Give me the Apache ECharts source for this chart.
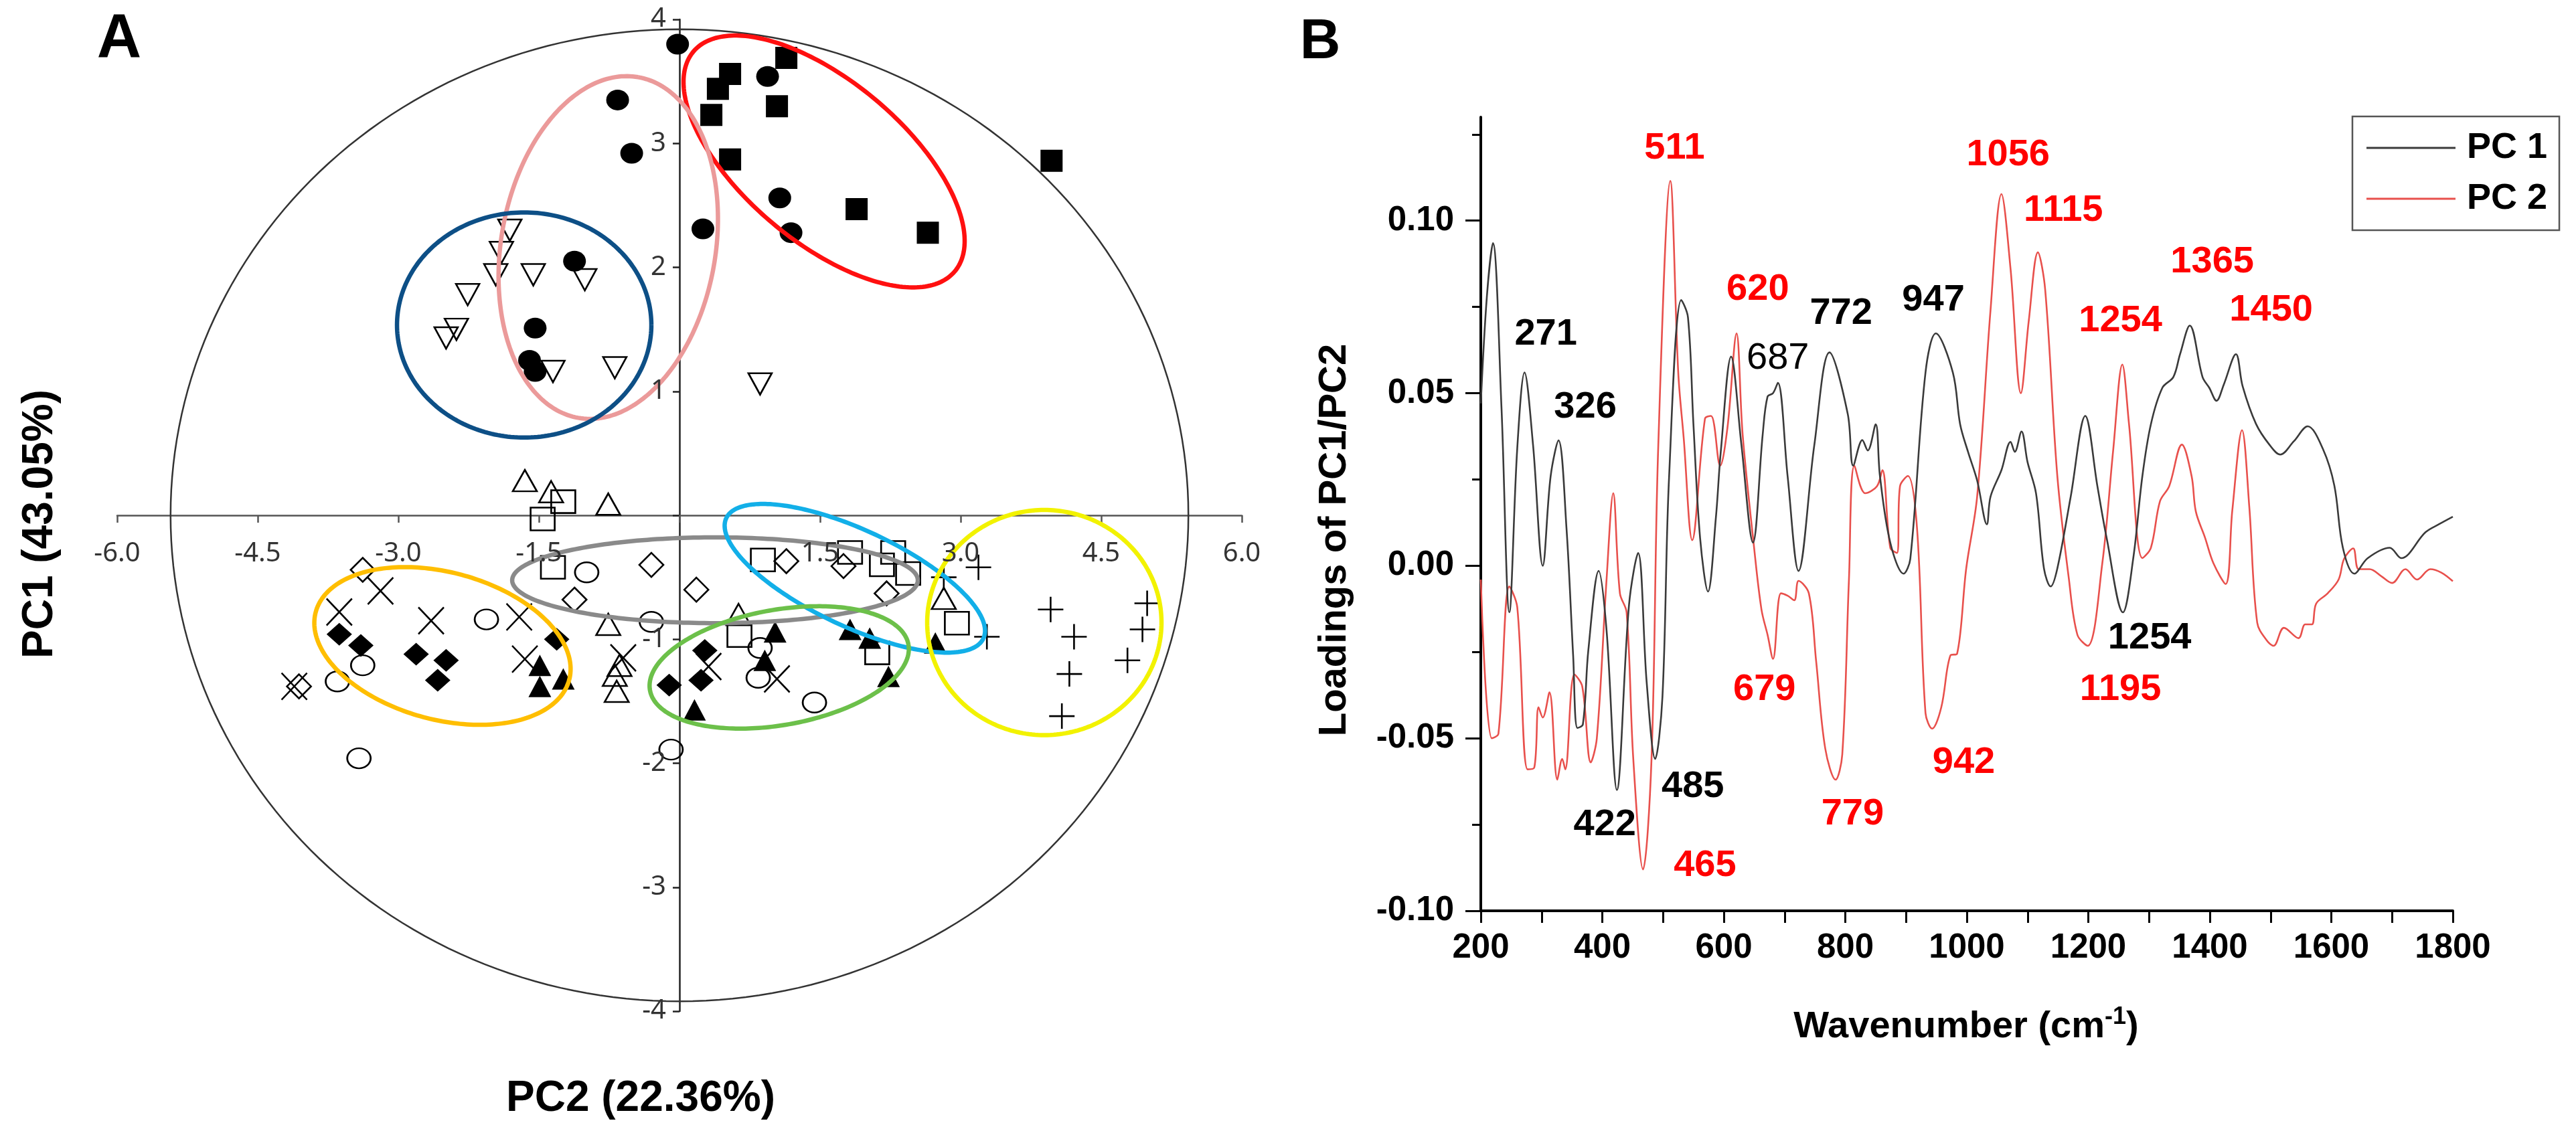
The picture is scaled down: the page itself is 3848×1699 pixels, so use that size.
<!DOCTYPE html>
<html><head><meta charset="utf-8">
<script src="https://cdn.jsdelivr.net/npm/echarts@6.0.0/dist/echarts.min.js"></script>
<style>html,body{margin:0;padding:0;background:#fff}#c{width:3848px;height:1699px}</style>
</head><body><div id="c"></div>
<script>
// ---------- Panel A: PCA scores (PC2 on x, PC1 on y) ----------
const filledCircles = [[-0.02,3.80],[0.94,3.54],[1.07,2.56],[1.19,2.28],[0.25,2.31],[-0.66,3.35],[-0.51,2.92],[-1.12,2.05],[-1.54,1.51],[-1.60,1.25],[-1.54,1.16]];
const filledSquares = [[1.14,3.69],[0.54,3.56],[0.41,3.44],[0.34,3.23],[1.04,3.30],[0.54,2.87],[1.89,2.47],[2.65,2.28],[3.97,2.86]];
const downTriangles = [[-1.81,2.30],[-1.90,2.12],[-1.96,1.94],[-1.56,1.94],[-1.01,1.90],[-2.26,1.78],[-2.38,1.50],[-2.49,1.43],[-1.35,1.16],[-0.69,1.19],[0.86,1.06]];
const upTriangles = [[-1.65,0.28],[-1.37,0.19],[-0.76,0.09],[-0.76,-0.88],[-0.64,-1.21],[-0.69,-1.29],[-0.67,-1.42],[0.63,-0.80],[2.82,-0.67]];
const openSquares = [[-1.46,-0.03],[-1.24,0.11],[-1.35,-0.42],[0.89,-0.36],[1.82,-0.30],[2.28,-0.30],[2.16,-0.40],[2.44,-0.47],[2.96,-0.87],[0.64,-0.97],[2.11,-1.11]];
const openDiamonds = [[-3.38,-0.44],[-1.12,-0.68],[-0.30,-0.40],[0.18,-0.60],[1.14,-0.37],[1.75,-0.41],[2.21,-0.63],[-4.06,-1.38]];
const openCircles = [[-0.99,-0.46],[-2.06,-0.84],[-3.38,-1.21],[-3.65,-1.34],[-0.30,-0.86],[-3.42,-1.96],[0.86,-1.07],[0.84,-1.31],[1.44,-1.51],[-0.09,-1.89]];
const crosses = [[-3.63,-0.78],[-3.19,-0.61],[-2.65,-0.85],[-1.71,-0.82],[-1.65,-1.16],[-0.60,-1.15],[-4.11,-1.38],[0.31,-1.22],[1.04,-1.32]];
const filledDiamonds = [[-3.63,-0.96],[-3.40,-1.05],[-2.81,-1.12],[-2.49,-1.17],[-2.58,-1.33],[-1.31,-1.00],[0.27,-1.09],[0.23,-1.33],[-0.11,-1.37]];
const filledTriangles = [[-1.49,-1.21],[-1.49,-1.38],[-1.24,-1.32],[1.02,-0.94],[0.91,-1.17],[2.03,-0.99],[2.23,-1.30],[0.16,-1.57],[2.73,-1.03],[1.82,-0.92]];
const pluses = [[3.19,-0.42],[2.82,-0.50],[3.96,-0.76],[4.99,-0.71],[4.21,-0.98],[4.94,-0.92],[3.28,-0.98],[4.78,-1.17],[4.16,-1.28],[4.08,-1.62]];

// ellipses: centre (x,y) and two conjugate semi-axis vectors, data units
const ellipseShapes = [
  [0, 0, 5.43, 0, 0, 3.92],
  [1.543, 2.854, 1.395, -0.886, -0.551, -0.497],
  [-0.76, 2.16, 0.320, 1.374, 1.126, -0.150],
  [-1.657, 1.535, 1.357, 0, 0, 0.908],
  [0.379, -0.524, 2.164, 0, 0, 0.346],
  [1.871, -0.508, 1.372, -0.485, -0.2175, -0.3526],
  [3.893, -0.865, 1.25, 0, 0, 0.908],
  [1.064, -1.227, 1.379, 0.184, 0.107, -0.458],
  [-2.529, -1.054, 1.352, -0.274, -0.2035, -0.574]
];
const ellipseColors = ['#333333','#ff1010','#eb9a9a','#0d4f86','#8a8a8a','#12afe8','#f2f200','#6cc04a','#ffbe00'];
const ellipseWidths = [2.5, 6.5, 6.5, 6.5, 6.5, 6.5, 6.5, 6.5, 6.5];

const xTicksA = [-6, -4.5, -3, -1.5, 1.5, 3, 4.5, 6];
const yTicksA = [4, 3, 2, 1, -1, -2, -3, -4];

// ---------- Panel B: loadings ----------
const pc1 = [[200,0.047],[210,0.078],[220,0.0935],[234,0.046],[247,-0.0135],[260,0.034],[272,0.056],[286,0.035],[302,0.000],[315,0.026],[328,0.0363],[341,0.011],[352,-0.026],[359,-0.047],[368,-0.046],[377,-0.0245],[394,-0.0015],[407,-0.0187],[424,-0.065],[444,-0.0113],[459,0.0037],[473,-0.0337],[487,-0.056],[499,-0.038],[510,0.026],[530,0.077],[541,0.072],[550,0.041],[561,0.008],[574,-0.0075],[587,0.014],[595,0.033],[612,0.0606],[629,0.035],[648,0.0067],[664,0.038],[672,0.049],[681,0.050],[689,0.053],[705,0.026],[723,-0.0015],[749,0.035],[774,0.0618],[804,0.044],[813,0.029],[828,0.0364],[837,0.0334],[850,0.041],[857,0.026],[874,0.0067],[896,-0.0023],[907,0.002],[932,0.056],[949,0.0673],[977,0.056],[989,0.041],[1002,0.033],[1017,0.0247],[1033,0.012],[1039,0.020],[1057,0.0277],[1072,0.0359],[1079,0.033],[1090,0.0389],[1100,0.030],[1114,0.0209],[1127,-0.0008],[1138,-0.006],[1149,-0.0008],[1171,0.020],[1195,0.0434],[1215,0.023],[1230,0.0082],[1257,-0.0135],[1274,0.0022],[1289,0.026],[1303,0.041],[1322,0.0516],[1340,0.0547],[1351,0.0613],[1367,0.0696],[1388,0.0547],[1399,0.0516],[1411,0.0478],[1423,0.0525],[1443,0.0613],[1454,0.052],[1476,0.0411],[1498,0.0351],[1516,0.0322],[1538,0.036],[1561,0.0404],[1586,0.0339],[1605,0.0232],[1619,0.0052],[1638,-0.0023],[1660,0.0022],[1696,0.0052],[1715,0.0022],[1755,0.0097],[1777,0.012],[1800,0.0142]];
const pc2 = [[200,-0.004],[218,-0.050],[229,-0.0487],[247,-0.006],[260,-0.012],[277,-0.059],[288,-0.0585],[295,-0.041],[302,-0.044],[313,-0.0367],[326,-0.062],[334,-0.056],[339,-0.059],[354,-0.0315],[367,-0.035],[381,-0.057],[391,-0.050],[407,-0.004],[418,0.021],[429,-0.008],[440,-0.0135],[451,-0.056],[467,-0.088],[481,-0.056],[492,0.034],[512,0.1115],[525,0.056],[534,0.037],[548,0.0074],[569,0.0426],[579,0.0434],[594,0.029],[606,0.040],[621,0.0673],[631,0.038],[650,0.005],[662,-0.0127],[672,-0.020],[681,-0.027],[694,-0.008],[705,-0.0087],[716,-0.010],[723,-0.0044],[740,-0.008],[752,-0.0277],[767,-0.053],[784,-0.062],[795,-0.0547],[806,-0.004],[815,0.029],[833,0.021],[852,0.023],[861,0.0277],[874,0.0052],[885,0.0037],[890,0.023],[903,0.026],[918,0.011],[932,-0.0427],[943,-0.0472],[958,-0.041],[973,-0.026],[984,-0.0255],[999,-0.0008],[1017,0.020],[1039,0.074],[1057,0.1077],[1072,0.086],[1089,0.050],[1102,0.071],[1117,0.0908],[1129,0.080],[1149,0.026],[1168,-0.0038],[1182,-0.020],[1199,-0.0232],[1223,0.0007],[1241,0.0336],[1256,0.0583],[1267,0.041],[1289,0.0022],[1303,0.0052],[1318,0.0187],[1333,0.023],[1354,0.0351],[1370,0.026],[1377,0.0157],[1392,0.0082],[1406,0.0007],[1426,-0.0053],[1437,0.016],[1453,0.0393],[1465,0.017],[1478,-0.0165],[1494,-0.0217],[1505,-0.0232],[1522,-0.018],[1546,-0.021],[1557,-0.017],[1568,-0.017],[1575,-0.011],[1594,-0.008],[1612,-0.004],[1621,0.002],[1636,0.005],[1645,-0.001],[1663,-0.001],[1682,-0.003],[1700,-0.005],[1722,-0.001],[1741,-0.004],[1763,-0.001],[1781,-0.002],[1800,-0.0045]];

const peakText = ['511','271','326','485','422','465','620','687','772','947','679','779','942','1056','1115','1254','1254','1195','1365','1450'];
const peakX = [519,307,372,549,404,569,656,689,793,945,667,812,995,1068,1159,1253,1301,1253,1404,1501];
const peakY = [0.121,0.067,0.046,-0.064,-0.075,-0.087,0.080,0.060,0.073,0.077,-0.036,-0.072,-0.057,0.119,0.103,0.071,-0.021,-0.036,0.088,0.074];
const peakPC = [2,1,1,1,1,2,2,1,1,1,2,2,2,2,2,2,1,2,2,2];

const yMajorB = [-0.1, -0.05, 0, 0.05, 0.1];
const yMinorB = [-0.075, -0.025, 0.025, 0.075, 0.125];

// ---------- build ----------
const FONT = 'Liberation Sans, Arial, sans-serif';
const chart = echarts.init(document.getElementById('c'), null, {renderer: 'canvas'});

function scatterA(name, data, symbol, size, filled, rotate) {
  return {
    name, type: 'scatter', xAxisIndex: 0, yAxisIndex: 0, data,
    symbol, symbolSize: size, symbolRotate: rotate || 0,
    itemStyle: filled ? {color: '#000', borderColor: '#000', borderWidth: 0, opacity: 1}
                      : {color: 'rgba(0,0,0,0)', borderColor: '#000', borderWidth: 2.6, opacity: 1},
    z: 3, silent: true
  };
}
const crossPath = 'path://M0,0L10,10M10,0L0,10';
const plusPath = 'path://M5,0L5,10M0,5L10,5';
const tickFontA = {fontSize: 40, fontFamily: 'Noto Sans', color: '#333'};

const series = [
  scatterA('fc', filledCircles, 'circle', [34, 31], true),
  scatterA('fs', filledSquares, 'rect', [33, 33], true),
  scatterA('dt', downTriangles, 'triangle', [35, 32], false, 180),
  scatterA('ut', upTriangles, 'triangle', [36, 32], false),
  scatterA('os', openSquares, 'rect', [36, 34], false),
  scatterA('od', openDiamonds, 'diamond', [36, 36], false),
  scatterA('oc', openCircles, 'circle', [35, 30], false),
  scatterA('cx', crosses, crossPath, [38, 40], false),
  scatterA('fd', filledDiamonds, 'diamond', [38, 34], true),
  scatterA('ft', filledTriangles, 'triangle', [34, 32], true),
  scatterA('pl', pluses, plusPath, [38, 38], false),
  {
    type: 'custom', xAxisIndex: 0, yAxisIndex: 0, data: ellipseShapes,
    dimensions: ['cx','cy','ax','ay','bx','by'], encode: {x: 0, y: 1},
    clip: false, silent: true, z: 4,
    renderItem: function (params, api) {
      const cx = api.value(0), cy = api.value(1), ax = api.value(2), ay = api.value(3), bx = api.value(4), by = api.value(5);
      const pts = [];
      for (let i = 0; i <= 240; i++) {
        const t = i / 240 * Math.PI * 2;
        pts.push(api.coord([cx + ax * Math.cos(t) + bx * Math.sin(t), cy + ay * Math.cos(t) + by * Math.sin(t)]));
      }
      return {type: 'polyline', shape: {points: pts},
        style: {fill: null, stroke: ellipseColors[params.dataIndex], lineWidth: ellipseWidths[params.dataIndex]}};
    }
  },
  // tick labels of panel A, placed at the crossing axes
  {
    type: 'scatter', xAxisIndex: 0, yAxisIndex: 0, symbolSize: 0, silent: true, z: 5,
    itemStyle: {opacity: 1},
    data: xTicksA.map(v => ({name: v.toFixed(1), value: [v, 0]})),
    label: Object.assign({show: true, position: 'bottom', distance: 38, formatter: p => p.name}, tickFontA)
  },
  {
    type: 'scatter', xAxisIndex: 0, yAxisIndex: 0, symbolSize: 0, silent: true, z: 5,
    itemStyle: {opacity: 1},
    data: yTicksA.map(v => ({name: String(v), value: [0, v]})),
    label: Object.assign({show: true, position: 'left', distance: 20, formatter: p => p.name}, tickFontA)
  },
  {
    name: 'PC 1', type: 'line', xAxisIndex: 1, yAxisIndex: 1, data: pc1, symbol: 'none',
    smooth: 0.35, lineStyle: {color: '#3a3a3a', width: 2.6}, itemStyle: {color: '#3a3a3a'}, z: 3
  },
  {
    name: 'PC 2', type: 'line', xAxisIndex: 1, yAxisIndex: 1, data: pc2, symbol: 'none',
    smooth: 0.35, lineStyle: {color: '#e8504c', width: 2.6}, itemStyle: {color: '#e8504c'}, z: 2
  },
  {
    type: 'scatter', xAxisIndex: 1, yAxisIndex: 1, symbolSize: 0, silent: true, z: 5,
    itemStyle: {color: '#000', opacity: 1},
    data: peakText.map((t, i) => ({name: t, value: [peakX[i], peakY[i]],
      label: {color: peakPC[i] === 2 ? '#ff0000' : '#000000', fontWeight: (t === '687') ? 'normal' : 'bold'}})),
    label: {show: true, position: 'inside', formatter: p => p.name, fontSize: 56, fontFamily: FONT, color: '#000'}
  }
];

const option = {
  animation: false,
  backgroundColor: '#fff',
  grid: [
    {left: 175, top: 29, width: 1680, height: 1482},
    {left: 2212, top: 175, width: 1452, height: 1186}
  ],
  xAxis: [
    {gridIndex: 0, type: 'value', min: -6, max: 6, interval: 1.5,
      axisLine: {onZero: true, lineStyle: {color: '#555', width: 2.5}},
      axisTick: {length: 11, lineStyle: {color: '#555', width: 2.5}},
      axisLabel: {show: false},
      splitLine: {show: false}},
    {gridIndex: 1, type: 'value', min: 200, max: 1800, interval: 100, position: 'bottom',
      axisLine: {onZero: false, lineStyle: {color: '#000', width: 4}},
      axisTick: {length: 18, lineStyle: {color: '#000', width: 3}},
      axisLabel: {formatter: v => (v % 200 === 0 ? String(v) : ''), fontSize: 51, fontWeight: 'bold', fontFamily: FONT, color: '#000', margin: 30},
      splitLine: {show: false}}
  ],
  yAxis: [
    {gridIndex: 0, type: 'value', min: -4, max: 4, interval: 1,
      axisLine: {onZero: true, lineStyle: {color: '#222', width: 2.5}},
      axisTick: {length: 10, lineStyle: {color: '#222', width: 2.5}},
      axisLabel: {show: false},
      splitLine: {show: false}},
    {gridIndex: 1, type: 'value', min: -0.1, max: 0.13, position: 'left',
      axisLine: {onZero: false, lineStyle: {color: '#000', width: 4}},
      axisTick: {customValues: yMajorB, length: 23, lineStyle: {color: '#000', width: 3}},
      axisLabel: {customValues: yMajorB, formatter: v => v.toFixed(2), fontSize: 51, fontWeight: 'bold', fontFamily: FONT, color: '#000', margin: 40},
      splitLine: {show: false}},
    {gridIndex: 1, type: 'value', min: -0.1, max: 0.13, position: 'left', offset: 0,
      axisLine: {show: true, onZero: false, lineStyle: {color: 'rgba(0,0,0,0)', width: 1}},
      axisTick: {show: true, customValues: yMinorB, length: 13, lineStyle: {color: '#000', width: 3}},
      axisLabel: {show: false}, splitLine: {show: false}}
  ],
  legend: {
    data: ['PC 1', 'PC 2'], orient: 'vertical', left: 3514, top: 174,
    borderColor: '#555', borderWidth: 2.5, padding: [20, 18, 20, 21],
    icon: 'rect', itemWidth: 133, itemHeight: 3, itemGap: 22,
    textStyle: {fontSize: 54, fontWeight: 'bold', fontFamily: FONT, color: '#000', padding: [0, 0, 0, 12]}
  },
  graphic: [
    {type: 'text', x: 178, y: 60, style: {text: 'A', fontSize: 92, fontWeight: 'bold', fontFamily: FONT, fill: '#000', align: 'center', verticalAlign: 'middle'}},
    {type: 'text', x: 1972, y: 64, style: {text: 'B', fontSize: 84, fontWeight: 'bold', fontFamily: FONT, fill: '#000', align: 'center', verticalAlign: 'middle'}},
    {type: 'text', x: 60, y: 783, rotation: Math.PI / 2, style: {text: 'PC1 (43.05%)', fontSize: 64, fontWeight: 'bold', fontFamily: FONT, fill: '#000', align: 'center', verticalAlign: 'middle'}},
    {type: 'text', x: 957, y: 1642, style: {text: 'PC2 (22.36%)', fontSize: 64, fontWeight: 'bold', fontFamily: FONT, fill: '#000', align: 'center', verticalAlign: 'middle'}},
    {type: 'text', x: 1994, y: 807, rotation: Math.PI / 2, style: {text: 'Loadings of PC1/PC2', fontSize: 58, fontWeight: 'bold', fontFamily: FONT, fill: '#000', align: 'center', verticalAlign: 'middle'}},
    {type: 'text', x: 2937, y: 1535, style: {text: 'Wavenumber (cm{sup|-1})', fontSize: 56, fontWeight: 'bold', fontFamily: FONT, fill: '#000', align: 'center', verticalAlign: 'middle',
      rich: {sup: {fontSize: 36, fontWeight: 'bold', fontFamily: FONT, fill: '#000', verticalAlign: 'top', padding: [0, 0, 30, 0]}}}}
  ],
  series
};
chart.setOption(option);
</script></body></html>
